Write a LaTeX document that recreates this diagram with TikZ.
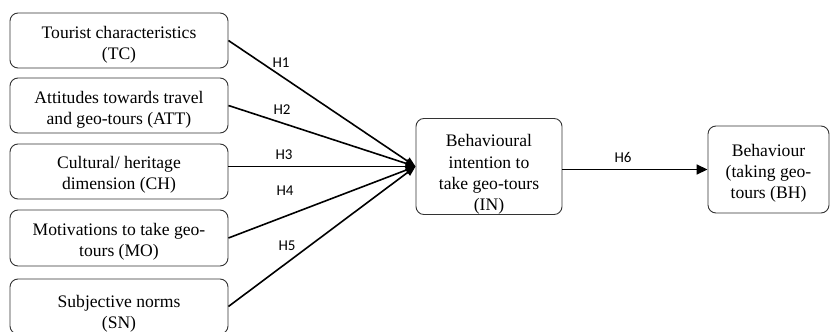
\documentclass[tikz,border=0pt]{standalone}
\usepackage{fontspec}
\setmainfont{Liberation Serif}
\newfontfamily\hfont{Carlito}
\usetikzlibrary{arrows.meta}
\newcommand{\dnshift}[1]{\rule{0pt}{\dimexpr 12.4pt+#1\relax}}
\begin{document}
\begin{tikzpicture}[x=1pt,y=-1pt,
  box/.style={draw=black!80, line width=0.9pt, rounded corners=8pt, align=center,
    inner sep=0pt, font=\fontsize{17.6}{21.3}\selectfont},
  boxtext/.style={align=center, inner sep=0pt, font=\fontsize{17.6}{20.5}\selectfont},
  hlab/.style={font=\hfont\fontsize{15}{18}\selectfont, inner sep=0pt},
  conn/.style={line width=1.6pt, -{Triangle[length=10pt,width=8pt]}}
]
\useasboundingbox (0,0) rectangle (830,332);
\node[box, minimum width=218pt, minimum height=55pt] (TC) at (119,40.5) {\dnshift{9pt}Tourist characteristics\\(TC)};
\node[box, minimum width=218pt, minimum height=55pt] (ATT) at (119,105.5) {\dnshift{9pt}Attitudes towards travel\\and geo-tours (ATT)};
\node[box, minimum width=218pt, minimum height=55pt] (CH) at (119,171.5) {\dnshift{6pt}Cultural/ heritage\\dimension (CH)};
\node[box, minimum width=218pt, minimum height=56pt] (MO) at (119,238) {\dnshift{8pt}Motivations to take geo-\\tours (MO)};
\node[box, minimum width=218pt, minimum height=55pt] (SN) at (119,306.5) {};
\node[boxtext] (SNt) at (119,314) {Subjective norms\\(SN)};
\node[box, minimum width=146pt, minimum height=95pt] (IN) at (489,166.5) {\dnshift{16pt}Behavioural\\intention to\\take geo-tours\\(IN)};
\node[box, minimum width=121pt, minimum height=87pt] (BH) at (768.5,169.5) {\dnshift{7pt}Behaviour\\(taking geo-\\tours (BH)};

\draw[conn] (TC.east) -- (IN.west);
\draw[conn] (ATT.east) -- (IN.west);
\draw[conn] (CH.east |- IN.west) -- (IN.west);
\draw[conn] (MO.east) -- (IN.west);
\draw[conn] (SN.east) -- (IN.west);
\draw[line width=1.6pt, -{Triangle[length=11pt,width=10pt]}] (IN.east |- BH.west) -- (BH.west);

\node[hlab] (H1) at (281,63) {H1};
\node[hlab] (H2) at (282,110) {H2};
\node[hlab] (H3) at (284,155) {H3};
\node[hlab] (H4) at (285,191) {H4};
\node[hlab] (H5) at (287,246) {H5};
\node[hlab] (H6) at (623,157) {H6};
\end{tikzpicture}
\end{document}
